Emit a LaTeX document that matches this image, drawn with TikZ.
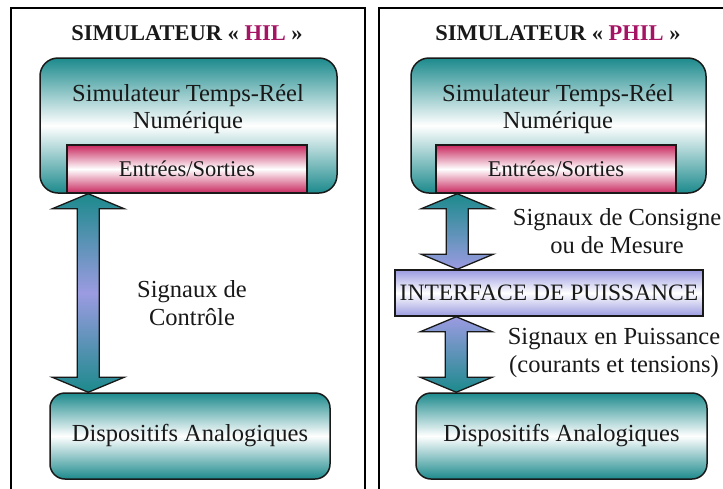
\documentclass[tikz,border=0pt]{standalone}
\usepackage{fontspec}
\setmainfont{Liberation Serif}
\newfontfamily\tnr{Liberation Serif}
\usetikzlibrary{calc}
\definecolor{tealc}{RGB}{28,138,140}
\definecolor{lavc}{RGB}{155,155,225}
\definecolor{crimc}{RGB}{200,40,95}
\definecolor{magc}{RGB}{165,20,100}
\definecolor{inkc}{RGB}{25,25,25}
\newcommand\dblarrow[3]{%
  \path[draw=inkc, line width=1.3pt, #3] let \p1=#1, \p2=#2 in
    (\x1,\y1) -- (\x1+36pt,\y1-15pt) -- (\x1+11pt,\y1-15pt) -- (\x1+11pt,\y2+15pt)
    -- (\x1+36pt,\y2+15pt) -- (\x1,\y2) -- (\x1-36pt,\y2+15pt) -- (\x1-11pt,\y2+15pt)
    -- (\x1-11pt,\y1-15pt) -- (\x1-36pt,\y1-15pt) -- cycle;}
\begin{document}
\begin{tikzpicture}[x=1pt,y=-1pt,
  panel/.style={draw=black, line width=1.8pt, rectangle, inner sep=0pt},
  title/.style={font=\tnr\bfseries\fontsize{22.5}{26}\selectfont, text=inkc},
  simbox/.style={draw=inkc, line width=1.5pt, rounded corners=18pt, top color=tealc, bottom color=tealc, middle color=white, inner sep=0pt},
  devbox/.style={draw=inkc, line width=1.5pt, rounded corners=15pt, top color=tealc, bottom color=tealc, middle color=white, inner sep=0pt, font=\tnr\fontsize{24.5}{27.5}\selectfont, text=inkc},
  iobox/.style={draw=inkc, line width=1.5pt, top color=crimc, bottom color=crimc, middle color=white, inner sep=0pt, font=\tnr\fontsize{22.5}{27}\selectfont, text=inkc},
  ifbox/.style={draw=inkc, line width=1.5pt, top color=lavc, bottom color=lavc, middle color=white, inner sep=0pt, font=\tnr\fontsize{23.5}{27}\selectfont, text=inkc},
  lbl/.style={align=center, font=\tnr\fontsize{24.5}{27.5}\selectfont, text=inkc, inner sep=0pt}]
\useasboundingbox (0,0) rectangle (723,488);
\clip (0,0) rectangle (723,488);
\fill[white] (0,0) rectangle (723,488);
% panels
\node[panel, minimum width=354pt, minimum height=490pt] (panel1) at (188,253) {};
\node[panel, minimum width=352pt, minimum height=490pt] (panel2) at (555,253) {};
\node[title] (t1) at (187,33) {SIMULATEUR « \textcolor{magc}{HIL} »};
\node[title] (t2) at (558,33) {SIMULATEUR « \textcolor{magc}{PHIL} »};
% left
\node[simbox, minimum width=297pt, minimum height=135pt] (sim1) at (188.5,125.5) {};
\node[lbl] (simt1) at (188,109) {Simulateur Temps-Réel\\Numérique};
\node[iobox, minimum width=240pt, minimum height=48pt] (io1) at (187,169) {Entrées/Sorties};
\node[devbox, minimum width=280pt, minimum height=86pt] (dev1) at (190,436) {Dispositifs Analogiques};
\dblarrow{($(io1.south west)+(22,0)$)}{(dev1.north)}{top color=tealc, bottom color=tealc, middle color=lavc}
\node[lbl] (l1) at (192,303) {Signaux de\\Contrôle};
% right
\node[simbox, minimum width=295pt, minimum height=135pt] (sim2) at (558.5,125.5) {};
\node[lbl] (simt2) at (558,109) {Simulateur Temps-Réel\\Numérique};
\node[iobox, minimum width=240pt, minimum height=48pt] (io2) at (556,169) {Entrées/Sorties};
\node[ifbox, minimum width=308pt, minimum height=46pt] (if2) at (549,293) {INTERFACE DE PUISSANCE};
\node[devbox, minimum width=291pt, minimum height=86pt] (dev2) at (561.5,436) {Dispositifs Analogiques};
\dblarrow{($(io2.south west)+(22,0)$)}{(if2.north)}{top color=tealc, bottom color=lavc}
\dblarrow{($(if2.south west)+(62,0)$)}{(dev2.north)}{top color=lavc, bottom color=tealc}
\node[lbl] (l2) at (617,231) {Signaux de Consigne\\ou de Mesure};
\node[lbl] (l3) at (614,353) {Signaux en Puissance\\(courants et tensions)};
\end{tikzpicture}
\end{document}
